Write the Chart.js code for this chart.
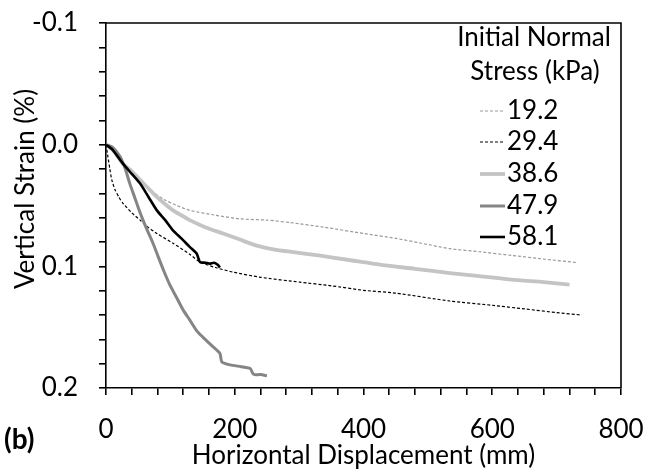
<!DOCTYPE html>
<html>
<head>
<meta charset="utf-8">
<script src="https://cdn.jsdelivr.net/npm/chart.js@4"></script>
<style>
html,body{margin:0;padding:0;background:#fff;}
#wrap{width:645px;height:472px;position:relative;}
</style>
</head>
<body>
<div id="wrap"><canvas id="c" width="645" height="472"></canvas></div>
<script>
// ---- data ----
const seriesLabels = ['19.2', '29.4', '38.6', '47.9', '58.1'];
const legendTitle = ['Initial Normal', 'Stress (kPa)'];
const xTitle = 'Horizontal Displacement (mm)';
const yTitle = 'Vertical Strain (%)';
const panelLabel = '(b)';

const s192X = [0, 5, 15, 26, 40, 53, 68, 90, 110, 130, 170, 208, 250, 286, 340, 400, 450, 490, 534, 580, 630, 680, 733];
const s192Y = [0, 0.002, 0.008, 0.015, 0.022, 0.029, 0.037, 0.045, 0.050, 0.054, 0.058, 0.061, 0.062, 0.064, 0.068, 0.073, 0.077, 0.081, 0.0855, 0.088, 0.091, 0.094, 0.097];

const s294X = [0, 3, 6, 9, 14, 20, 26, 40, 53, 63, 79, 104, 130, 146, 170, 197, 240, 301, 350, 400, 450, 534, 600, 650, 700, 739];
const s294Y = [0, 0.010, 0.020, 0.029, 0.037, 0.043, 0.048, 0.056, 0.062, 0.067, 0.073, 0.081, 0.090, 0.0965, 0.101, 0.1047, 0.109, 0.113, 0.116, 0.1197, 0.122, 0.1285, 0.132, 0.135, 0.138, 0.140];

const s386X = [0, 10, 26, 40, 53, 66, 79, 92, 104, 117, 130, 155, 182, 208, 234, 260, 286, 330, 380, 430, 480, 534, 580, 630, 680, 720];
const s386Y = [0, 0.004, 0.0154, 0.022, 0.029, 0.036, 0.043, 0.049, 0.054, 0.058, 0.062, 0.068, 0.073, 0.078, 0.083, 0.086, 0.088, 0.091, 0.095, 0.099, 0.102, 0.1055, 0.108, 0.111, 0.113, 0.115];

const s479X = [0, 10, 22, 30, 37, 45, 53, 63, 73, 81, 90, 99, 110, 120, 130, 141, 150, 156, 166, 177, 180, 193, 210, 224, 228, 231, 240, 250];
const s479Y = [0, 0.002, 0.010, 0.020, 0.032, 0.044, 0.056, 0.069, 0.081, 0.092, 0.104, 0.115, 0.126, 0.136, 0.144, 0.153, 0.158, 0.161, 0.166, 0.1716, 0.1786, 0.181, 0.1825, 0.184, 0.188, 0.189, 0.189, 0.190];

const s581X = [0, 10, 26, 40, 53, 66, 79, 92, 104, 117, 130, 141, 146, 155, 161, 168, 174, 177];
const s581Y = [0, 0.004, 0.0154, 0.024, 0.032, 0.043, 0.054, 0.062, 0.0704, 0.077, 0.084, 0.0896, 0.0965, 0.097, 0.0978, 0.097, 0.099, 0.101];

const xTickLabels = [0, 200, 400, 600, 800];
const yTickLabels = [-0.1, 0.0, 0.1, 0.2];

// ---- build ----
function pts(xs, ys){ return xs.map((x,i)=>({x:x, y:ys[i]})); }
const FONT = 'Lato';
const FS = 26;

const styles = [
  {color:'#9a9a9a', width:1.2, dash:[3,2]},
  {color:'#000000', width:1.2, dash:[3,2]},
  {color:'#c4c4c4', width:3.8, dash:[]},
  {color:'#858585', width:3, dash:[]},
  {color:'#000000', width:2.6, dash:[]}
];
const allX = [s192X, s294X, s386X, s479X, s581X];
const allY = [s192Y, s294Y, s386Y, s479Y, s581Y];
const datasets = seriesLabels.map((lab,i)=>({
  label: lab,
  data: pts(allX[i], allY[i]),
  borderColor: styles[i].color,
  borderWidth: styles[i].width,
  borderDash: styles[i].dash,
  pointRadius: 0,
  fill: false,
  tension: 0.2
}));
const order = [0, 2, 1, 3, 4];
order.forEach((di, k)=>{ datasets[di].order = 10 - k; });

const decor = {
  id: 'decor',
  afterDraw(chart){
    const ctx = chart.ctx;
    const a = chart.chartArea;
    ctx.save();
    ctx.strokeStyle = '#000';
    ctx.lineWidth = 1.6;
    ctx.beginPath();
    ctx.moveTo(a.left, a.top);
    ctx.lineTo(a.right, a.top);
    ctx.lineTo(a.right, a.bottom);
    ctx.stroke();

    ctx.fillStyle = '#000';
    ctx.font = FS + 'px ' + FONT;
    ctx.textAlign = 'center';
    ctx.textBaseline = 'middle';
    ctx.save();
    ctx.translate(26, 189);
    ctx.rotate(-Math.PI/2);
    ctx.fillText(yTitle, 0, 0);
    ctx.restore();

    ctx.font = 'bold 28px ' + FONT;
    ctx.textAlign = 'left';
    ctx.fillText(panelLabel, 4, 440);

    ctx.font = FS + 'px ' + FONT;
    ctx.textAlign = 'center';
    ctx.fillText(legendTitle[0], 534, 38);
    ctx.fillText(legendTitle[1], 535, 72);
    const rows = [111, 142, 174, 206, 237];
    seriesLabels.forEach((lab,i)=>{
      const y = rows[i];
      ctx.save();
      ctx.strokeStyle = styles[i].color;
      ctx.lineWidth = styles[i].width;
      ctx.setLineDash(styles[i].dash);
      ctx.beginPath();
      ctx.moveTo(480, y);
      ctx.lineTo(505, y);
      ctx.stroke();
      ctx.restore();
      ctx.textAlign = 'left';
      ctx.fillText(lab, 507, y);
    });
    ctx.restore();
  }
};

new Chart(document.getElementById('c'), {
  type: 'line',
  data: { datasets },
  options: {
    responsive: false,
    animation: false,
    layout: { padding: { left: 0, top: 23, right: 24, bottom: 0 } },
    plugins: { legend: { display: false }, tooltip: { enabled: false } },
    scales: {
      x: {
        type: 'linear', min: 0, max: 800,
        ticks: {
          stepSize: 40, autoSkip: false, maxRotation: 0, padding: 19,
          color: '#000', font: { family: FONT, size: FS },
          callback: v => xTickLabels.includes(v) ? String(v) : ''
        },
        grid: { display: true, drawOnChartArea: false, drawTicks: true, tickLength: 7, color: '#000', lineWidth: 1.6 },
        border: { display: true, color: '#000', width: 1.6 },
        title: { display: true, text: xTitle, color: '#000', font: { family: FONT, size: FS }, padding: { top: 0, bottom: 1 } },
        afterFit: s => { s.height = 84; s.paddingLeft = 0; s.paddingRight = 0; }
      },
      y: {
        type: 'linear', min: -0.1, max: 0.2, reverse: true,
        ticks: {
          stepSize: 0.02, autoSkip: false, padding: 21,
          color: '#000', font: { family: FONT, size: FS },
          callback: v => {
            const r = Math.round(v * 100) / 100;
            return yTickLabels.some(t => Math.abs(t - r) < 1e-9) ? r.toFixed(1) : '';
          }
        },
        grid: { display: true, drawOnChartArea: false, drawTicks: true, tickLength: 7, color: '#000', lineWidth: 1.6 },
        border: { display: true, color: '#000', width: 1.6 },
        afterFit: s => { s.width = 106; s.paddingTop = 0; s.paddingBottom = 0; }
      }
    }
  },
  plugins: [decor]
});
</script>
</body>
</html>
